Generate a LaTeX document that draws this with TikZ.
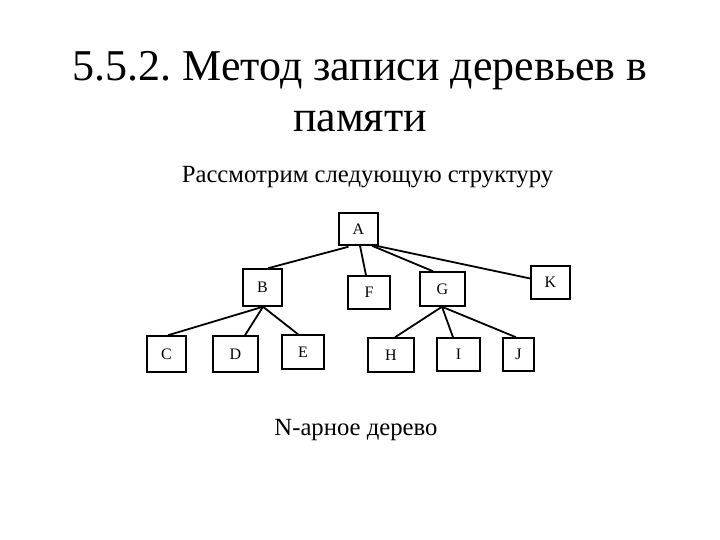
\documentclass[tikz,border=0pt]{standalone}
\usepackage{fontspec}
\setmainfont{Liberation Serif}
\frenchspacing
\usetikzlibrary{calc}

\begin{document}
\begin{tikzpicture}[x=1pt,y=-1pt]

\tikzstyle{block} = [draw, line width=1.5pt, minimum width=39pt, minimum height=34pt, inner sep=0pt, font=\fontsize{16}{18}\selectfont]
\tikzset{edge/.style={line width=1.8pt}}

\useasboundingbox (0,0) rectangle (720,540);

% headings
\node[align=center, font=\fontsize{44}{51}\selectfont] (title) at (360,92) {5.5.2. Метод записи деревьев в\\памяти};
\node[font=\fontsize{24.7}{28}\selectfont] (subtitle) at (367.5,177) {Рассмотрим следующую структуру};

% tree
\node[block, minimum height=32pt] (A) at (358.5,229) {A};
\node[block, minimum height=37pt] (B) at (262.5,287.5) {B};
\node[block, minimum width=42pt, minimum height=33pt] (F) at (369,292.5) {F};
\node[block, minimum width=45pt] (G) at (442.5,289) {G};
\node[block, minimum height=33pt] (K) at (550.5,282.5) {K};
\node[block, minimum height=36pt] (C) at (166.5,354) {C};
\node[block, minimum width=45pt, minimum height=36pt] (D) at (235.5,354) {D};
\node[block, minimum width=42pt] (E) at (303,352) {E};
\node[block, minimum width=46pt] (H) at (391,355) {H};
\node[block, minimum width=43pt, minimum height=33pt] (I) at (458.5,354.5) {I};
\node[block, minimum width=31pt, minimum height=33pt] (J) at (518.5,354.5) {J};

\draw[edge] ($(A.south)+(-10,1)$) -- ($(B.north)+(5.5,0)$);
\draw[edge] ($(A.south)+(1.5,0)$) -- ($(F.north)+(-3,0)$);
\draw[edge] ($(A.south)+(13.5,0)$) -- ($(G.north)+(-9.5,0)$);
\draw[edge] ($(A.south)+(17.5,0)$) -- ($(K.west)+(0,-4)$);

\draw[edge] ($(B.south)+(0.5,0)$) -- ($(C.north)+(1.5,0)$);
\draw[edge] ($(B.south)+(0.5,0)$) -- ($(D.north)+(9.5,0)$);
\draw[edge] ($(B.south)+(0.5,0)$) -- ($(E.north)+(-5,0)$);

\draw[edge] ($(G.south)+(-0.5,0)$) -- ($(H.north)+(4,0)$);
\draw[edge] ($(G.south)+(-0.5,0)$) -- ($(I.north)+(-5.5,0)$);
\draw[edge] ($(G.south)+(-0.5,0)$) -- ($(J.north)+(-2.5,0)$);

\node[font=\fontsize{24.7}{28}\selectfont] (caption) at (356,430) {N-арное дерево};

\end{tikzpicture}
\end{document}
